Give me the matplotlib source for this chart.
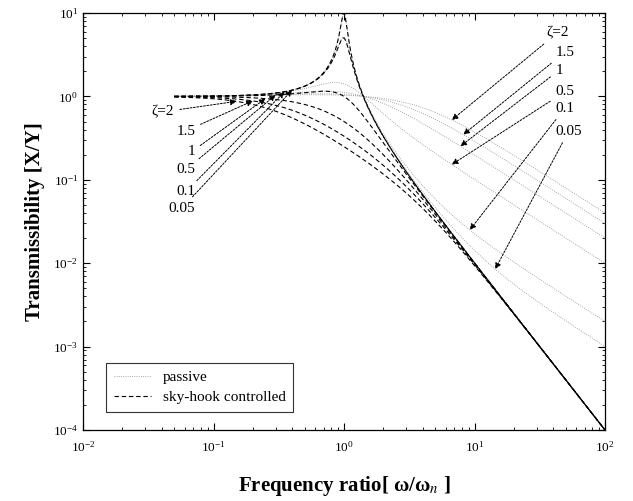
import numpy as np
import matplotlib
matplotlib.use("Agg")
import matplotlib.pyplot as plt

plt.rcParams["font.family"] = ["Liberation Serif", "DejaVu Serif"]
plt.rcParams["mathtext.fontset"] = "stix"

# damping ratios of the plotted cases
zeta = [2.0, 1.5, 1.0, 0.5, 0.1, 0.05]
zeta_labels = ["ζ=2", "1.5", "1", "0.5", "0.1", "0.05"]

# frequency ratio range of the curves
r_min, r_max = 0.05, 100.0

# frequency ratios where the leader arrows touch the curves
sky_arrow_r = [0.15, 0.2, 0.25, 0.3, 0.35, 0.4]
passive_arrow_r = [6.7, 8.2, 7.8, 6.7, 9.2, 14.4]

x_ticks = [1e-2, 1e-1, 1e0, 1e1, 1e2]
y_ticks = [1e-4, 1e-3, 1e-2, 1e-1, 1e0, 1e1]


def passive_T(r, z):
    return np.sqrt((1 + (2 * z * r) ** 2) / ((1 - r ** 2) ** 2 + (2 * z * r) ** 2))


def skyhook_T(r, z):
    return 1.0 / np.sqrt((1 - r ** 2) ** 2 + (2 * z * r) ** 2)


r = np.logspace(np.log10(r_min), np.log10(r_max), 3000)

fig = plt.figure(figsize=(6.33, 5.01), dpi=100)
ax = fig.add_axes([83 / 633, 71 / 501, 522 / 633, 417 / 501])

for i, z in enumerate(zeta):
    ax.loglog(r, passive_T(r, z), linestyle=":", color="0.55", lw=0.6,
              label="passive" if i == 0 else None)
for i, z in enumerate(zeta):
    ax.loglog(r, skyhook_T(r, z), linestyle="--", color="black", lw=0.8,
              dashes=(4, 2.5), label="sky-hook controlled" if i == 0 else None)

ax.set_xlim(x_ticks[0], x_ticks[-1])
ax.set_ylim(y_ticks[0], y_ticks[-1])
ax.set_xticks(x_ticks)
ax.set_yticks(y_ticks)
ax.tick_params(which="both", direction="in", top=True, right=True, labelsize=9.5)
ax.tick_params(which="major", length=5, width=0.8)
ax.tick_params(which="minor", length=2.5, width=0.6)
ax.tick_params(axis="x", pad=7)
for s in ax.spines.values():
    s.set_linewidth(0.9)

ax.set_xlabel("Frequency ratio[ ω/ω$_n$ ]", fontsize=15, fontweight="bold", labelpad=14)
ax.set_ylabel("Transmissibility [X/Y]", fontsize=15, fontweight="bold", labelpad=6)

arrow = dict(arrowstyle="-|>", color="black", lw=0.7, mutation_scale=9,
             linestyle=(0, (2, 1.5)), shrinkA=2, shrinkB=0)

# labels for the sky-hook curves, left side
left_text_y = [0.763, 0.717, 0.667, 0.624, 0.571, 0.532]
for i, (z, lab) in enumerate(zip(zeta, zeta_labels)):
    rx = sky_arrow_r[i]
    tx = 0.175 if i == 0 else 0.215
    ax.annotate(lab, xy=(rx, skyhook_T(rx, z)), xycoords="data",
                xytext=(tx, left_text_y[i]), textcoords="axes fraction",
                ha="right", va="center", fontsize=11, arrowprops=arrow)

# labels for the passive curves, right side
right_text_y = [0.952, 0.906, 0.863, 0.811, 0.772, 0.717]
for i, (z, lab) in enumerate(zip(zeta, zeta_labels)):
    rx = passive_arrow_r[i]
    if i == 0:
        tx, ha = 0.93, "right"
    else:
        tx, ha = 0.905, "left"
    ax.annotate(lab, xy=(rx, passive_T(rx, z)), xycoords="data",
                xytext=(tx, right_text_y[i]), textcoords="axes fraction",
                ha=ha, va="center", fontsize=11, arrowprops=arrow)

leg = ax.legend(loc="lower left", bbox_to_anchor=(0.03, 0.025), fontsize=11,
                frameon=True, fancybox=False, edgecolor="black",
                handlelength=2.4, borderpad=0.5, labelspacing=0.4)
leg.get_frame().set_linewidth(0.8)

fig.savefig("out.png", dpi=100)
